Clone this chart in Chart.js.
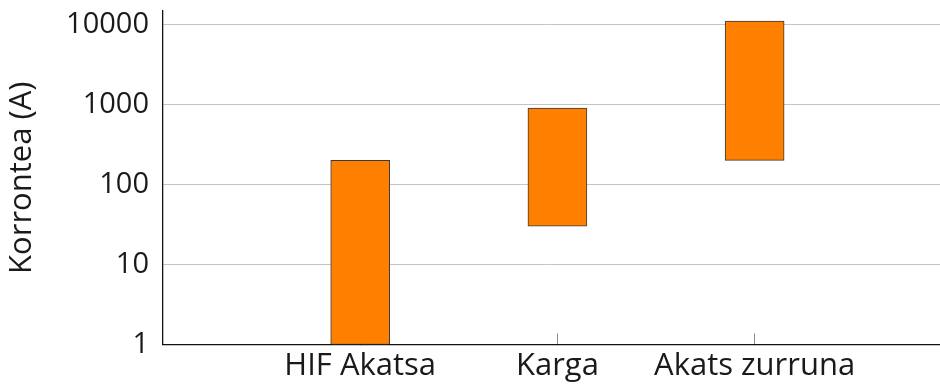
<!DOCTYPE html>
<html>
<head>
<meta charset="utf-8">
<script src="https://cdn.jsdelivr.net/npm/chart.js@4/dist/chart.umd.min.js"></script>
<style>
  html, body { margin: 0; padding: 0; background: #fff; }
  #wrap { width: 940px; height: 387px; }
</style>
</head>
<body>
<div id="wrap"><canvas id="c" width="940" height="387"></canvas></div>
<script>
// Fault categories and their current ranges (amperes)
const categories = ['HIF Akatsa', 'Karga', 'Akats zurruna'];
const categoryPos = [1, 2, 3];
const lowCurrent  = [1, 30, 200];
const highCurrent = [200, 900, 11000];
const yTicks = [1, 10, 100, 1000, 10000];
const yTitle = 'Korrontea (A)';

const FONT = "'Open Sans', sans-serif";
const TEXT = '#1a1a1a';

const points = categoryPos.map((x, i) => ({ x: x, y: [lowCurrent[i], highCurrent[i]] }));

new Chart(document.getElementById('c'), {
  type: 'bar',
  data: {
    datasets: [{
      data: points,
      backgroundColor: '#ff8000',
      borderColor: '#3a3a3a',
      borderWidth: 1,
      borderSkipped: false,
      barThickness: 59
    }]
  },
  options: {
    responsive: false,
    animation: false,
    layout: { padding: 0 },
    plugins: { legend: { display: false }, tooltip: { enabled: false } },
    scales: {
      x: {
        type: 'linear',
        min: 0,
        max: 3.94,
        offset: false,
        afterBuildTicks: s => { s.ticks = categoryPos.map(v => ({ value: v })); },
        afterFit: s => { s.height = 42.5; },
        ticks: {
          callback: (v) => categories[categoryPos.indexOf(v)],
          font: { family: FONT, size: 31 },
          color: TEXT,
          padding: 14,
          maxRotation: 0,
          autoSkip: false
        },
        grid: {
          offset: false,
          drawOnChartArea: false,
          drawTicks: true,
          tickLength: -11,
          color: '#8a8a8a',
          lineWidth: 1
        },
        border: { display: true, color: '#111', width: 1.3 }
      },
      y: {
        type: 'logarithmic',
        min: 1,
        max: 14660,
        afterBuildTicks: s => { s.ticks = yTicks.map(v => ({ value: v, major: true })); },
        afterFit: s => { s.width = 163; s.paddingTop = 11; s.paddingBottom = 0; },
        ticks: {
          callback: (v) => String(v),
          font: { family: FONT, size: 29 },
          color: TEXT,
          padding: 14,
          autoSkip: false
        },
        grid: {
          color: '#c4c4c4',
          lineWidth: 1,
          drawTicks: false
        },
        border: { display: true, color: '#111', width: 1.3 },
        title: {
          display: true,
          text: yTitle,
          font: { family: FONT, size: 31 },
          color: TEXT,
          padding: { top: 4, bottom: 4 }
        }
      }
    }
  }
});
</script>
</body>
</html>
